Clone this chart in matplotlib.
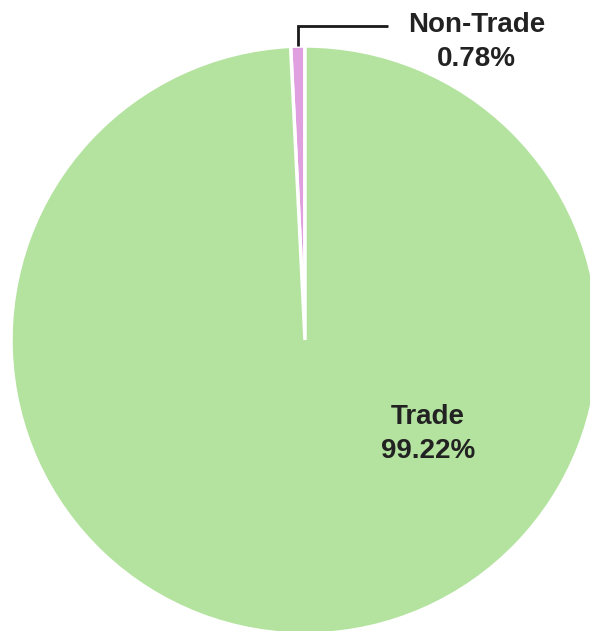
import numpy as np
import matplotlib.pyplot as plt

labels = ["Non-Trade", "Trade"]
shares = [0.78, 99.22]
colors = ["#E09FDF", "#B3E39F"]

plt.rcParams['font.family'] = ['Liberation Sans', 'DejaVu Sans']

fig = plt.figure(figsize=(5.9, 6.31), dpi=100)
ax = fig.add_axes([0, 0, 1, 1])

cx, cy, r = 305, 631 - 340, 294
wedges, _ = ax.pie(shares, colors=colors, startangle=90, counterclock=True,
                   radius=r, center=(cx, cy),
                   wedgeprops=dict(edgecolor="white", linewidth=2.5))
ax.set_xlim(0, 590)
ax.set_ylim(0, 631)
ax.set_aspect('equal')
ax.axis('off')

# leader line for the small slice
w = wedges[0]
mid = np.deg2rad((w.theta1 + w.theta2) / 2)
x0 = cx + r * np.cos(mid)
y0 = cy + r * np.sin(mid)
ax.plot([x0, x0, x0 + 90], [y0, y0 + 20, y0 + 20], color="#1a1a1a", lw=2,
        solid_capstyle="butt", solid_joinstyle="miter")
ax.text(x0 + 179, y0 + 4, f"{labels[0]}\n{shares[0]:.2f}%", ha="center", va="center",
        fontsize=20, fontweight="bold", color="#222222", linespacing=1.4)

ax.text(cx + 123, cy - 94, f"{labels[1]}\n{shares[1]:.2f}%", ha="center", va="center",
        fontsize=20, fontweight="bold", color="#222222", linespacing=1.4)

fig.savefig("out.png", dpi=100)
